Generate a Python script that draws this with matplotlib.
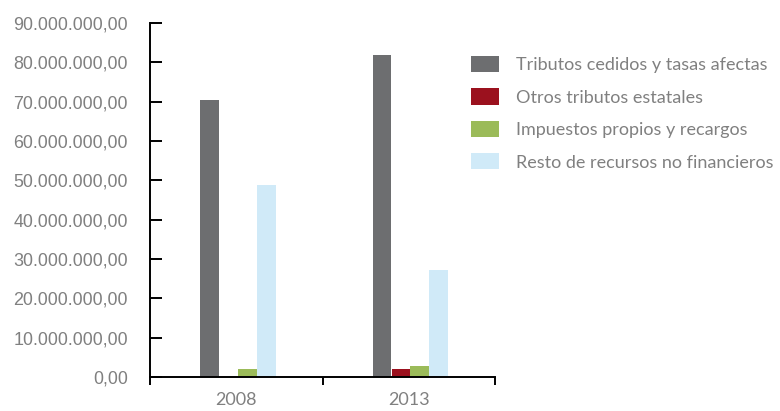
import matplotlib
matplotlib.use("Agg")
import matplotlib.pyplot as plt
import matplotlib.ticker as mticker
from matplotlib.patches import Patch
import numpy as np

years = ["2008", "2013"]
series = ["Tributos cedidos y tasas afectas", "Otros tributos estatales",
          "Impuestos propios y recargos", "Resto de recursos no financieros"]
values = {
    "Tributos cedidos y tasas afectas": [70400000, 81900000],
    "Otros tributos estatales": [0, 2000000],
    "Impuestos propios y recargos": [2000000, 2850000],
    "Resto de recursos no financieros": [48800000, 27200000],
}
colors = ["#6d6e70", "#9b111e", "#9bbb59", "#d0eaf8"]

fig = plt.figure(figsize=(7.8, 4.11), dpi=100)
ax = fig.add_axes([150 / 780, 34 / 411, 345 / 780, 354 / 411])

width = 0.11
centers = np.arange(len(years)) + 0.5
for i, name in enumerate(series):
    x = centers + (i - 1.5) * width + 0.01
    ax.bar(x, values[name], width=width, color=colors[i], linewidth=0)

ax.set_xlim(0, 2)
ax.set_ylim(0, 90000000)

ax.spines["top"].set_visible(False)
ax.spines["right"].set_visible(False)
for s in ("left", "bottom"):
    ax.spines[s].set_linewidth(1.4)

# 90.000.000,00 style labels
ax.yaxis.set_major_locator(mticker.MultipleLocator(10000000))
ax.yaxis.set_major_formatter(mticker.FuncFormatter(
    lambda v, p: "{:,.2f}".format(v).replace(",", "X").replace(".", ",").replace("X", ".")))
ax.tick_params(axis="y", direction="in", length=8.5, width=1.4, pad=16,
               labelsize=12.9, labelcolor="#808080")
for lab in ax.get_yticklabels():
    lab.set_family("Liberation Sans")

ax.set_xticks([0, 1, 2])
ax.set_xticklabels([])
ax.set_xticks(centers, minor=True)
ax.set_xticklabels(years, minor=True, family="Lato", fontsize=13, color="#808080")
ax.tick_params(axis="x", which="major", direction="out", length=6, width=1.4)
ax.tick_params(axis="x", which="minor", length=0, pad=11)

handles = [Patch(facecolor=c, edgecolor="none") for c in colors]
leg = fig.legend(handles, series, loc="upper left", bbox_to_anchor=(471 / 780, 1 - 56 / 411),
                 frameon=False, prop={"family": "Lato", "size": 13},
                 borderpad=0, borderaxespad=0,
                 handlelength=1.55, handleheight=1.0, handletextpad=0.95, labelspacing=0.84)
for t in leg.get_texts():
    t.set_color("#808080")

fig.savefig("out.png", dpi=100)
